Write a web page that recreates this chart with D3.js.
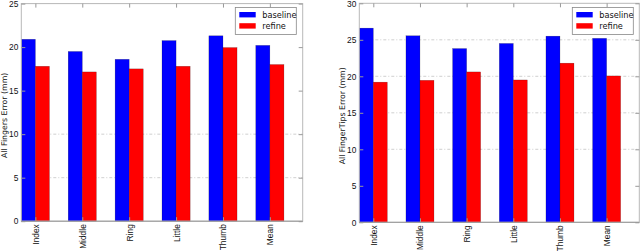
<!DOCTYPE html>
<html>
<head>
<meta charset="utf-8">
<script src="https://cdn.jsdelivr.net/npm/d3@7"></script>
<style>
  body { margin: 0; background: #fff; }
  svg { display: block; font-family: "DejaVu Sans", sans-serif; }
</style>
</head>
<body>
<svg id="chart" width="640" height="251"></svg>
<script>
const categories = ["Index", "Middle", "Ring", "Little", "Thumb", "Mean"];
const seriesNames = ["baseline", "refine"];

const fingersBaseline = [20.9, 19.5, 18.6, 20.75, 21.3, 20.2];
const fingersRefine = [17.8, 17.15, 17.5, 17.8, 19.95, 18.0];
const tipsBaseline = [26.6, 25.55, 23.8, 24.5, 25.5, 25.2];
const tipsRefine = [19.2, 19.45, 20.6, 19.5, 21.8, 20.05];

const fingersTicks = [0, 5, 10, 15, 20, 25];
const tipsTicks = [0, 5, 10, 15, 20, 25, 30];
// grid lines that show up in the picture
const fingersGrid = [5, 10];
const tipsGrid = [10, 15, 20, 25];

const colors = ["#0000ff", "#ff0000"];
const barWidth = 0.3;

const svg = d3.select("#chart");

function panel(opt) {
  const g = svg.append("g");
  const x = d3.scaleLinear().domain([0, categories.length]).range([opt.left, opt.right]);
  const y = d3.scaleLinear().domain([0, opt.ymax]).range([opt.bottom, opt.top]);

  // grid
  g.selectAll(".grid")
    .data(opt.grid)
    .enter()
    .append("line")
    .attr("x1", opt.left).attr("x2", opt.right)
    .attr("y1", d => y(d)).attr("y2", d => y(d))
    .attr("stroke", "#c4c4c4")
    .attr("stroke-width", 0.8)
    .attr("stroke-dasharray", "3,2,1,2");

  // bars
  [opt.baseline, opt.refine].forEach((vals, s) => {
    g.selectAll(".bar" + s)
      .data(vals)
      .enter()
      .append("rect")
      .attr("x", (d, i) => x(i + s * barWidth))
      .attr("width", x(barWidth) - x(0))
      .attr("y", d => y(d))
      .attr("height", d => y(0) - y(d))
      .attr("fill", colors[s])
      .attr("stroke", "rgba(0,0,0,0.45)")
      .attr("stroke-width", 0.4);
  });

  // frame
  g.append("rect")
    .attr("x", opt.left).attr("y", opt.top)
    .attr("width", opt.right - opt.left)
    .attr("height", opt.bottom - opt.top)
    .attr("fill", "none")
    .attr("stroke", "#b8b8b8")
    .attr("stroke-width", 1);
  g.append("line")
    .attr("x1", opt.left).attr("x2", opt.right)
    .attr("y1", opt.bottom).attr("y2", opt.bottom)
    .attr("stroke", "#999");

  // y axis
  const yAxis = d3.axisLeft(y).tickValues(opt.ticks).tickSize(-4).tickPadding(3);
  const ya = g.append("g").attr("transform", `translate(${opt.left},0)`).call(yAxis);
  ya.select(".domain").remove();
  ya.selectAll(".tick line").attr("stroke", "#999");
  ya.selectAll("text").attr("font-size", 8.4).attr("fill", "#111");

  const yAxisR = d3.axisRight(y).tickValues(opt.ticks).tickSize(-4).tickFormat("");
  const yr = g.append("g").attr("transform", `translate(${opt.right},0)`).call(yAxisR);
  yr.select(".domain").remove();
  yr.selectAll(".tick line").attr("stroke", "#999");

  // x axis
  const xt = categories.map((c, i) => i + barWidth);
  const xAxis = d3.axisBottom(x).tickValues(xt).tickSize(-4).tickFormat((d, i) => categories[i]);
  const xa = g.append("g").attr("transform", `translate(0,${opt.bottom})`).call(xAxis);
  xa.select(".domain").remove();
  xa.selectAll(".tick line").attr("stroke", "#999");
  xa.selectAll("text")
    .attr("font-size", 8.4)
    .attr("fill", "#111")
    .attr("transform", "rotate(-90)")
    .attr("text-anchor", "end")
    .attr("x", -3)
    .attr("y", 0)
    .attr("dy", "0.35em");

  const xAxisT = d3.axisTop(x).tickValues(xt).tickSize(-4).tickFormat("");
  const xtop = g.append("g").attr("transform", `translate(0,${opt.top})`).call(xAxisT);
  xtop.select(".domain").remove();
  xtop.selectAll(".tick line").attr("stroke", "#999");

  // y label
  g.append("text")
    .attr("transform", `translate(${opt.labelX},${(opt.top + opt.bottom) / 2 + 3}) rotate(-90)`)
    .attr("text-anchor", "middle")
    .attr("font-size", 7.8)
    .attr("fill", "#111")
    .text(opt.label);

  // legend
  const lg = g.append("g").attr("transform", `translate(${opt.legendX},7.5)`);
  lg.append("rect")
    .attr("width", 61).attr("height", 27)
    .attr("fill", "#fff")
    .attr("stroke", "#888")
    .attr("stroke-width", 0.8);
  seriesNames.forEach((name, s) => {
    lg.append("rect")
      .attr("x", 4).attr("y", 4.5 + s * 11.2)
      .attr("width", 16.4).attr("height", 5.4)
      .attr("fill", colors[s]);
    lg.append("text")
      .attr("x", 27).attr("y", 7.2 + s * 11.2)
      .attr("dy", "0.35em")
      .attr("font-size", 8.2)
      .attr("fill", "#111")
      .text(name);
  });
}

panel({
  left: 21.3, right: 302.7, top: 3.6, bottom: 221.2, ymax: 25,
  ticks: fingersTicks, grid: fingersGrid,
  baseline: fingersBaseline, refine: fingersRefine,
  label: "All Fingers Error (mm)", labelX: 6.5, legendX: 235.3
});

panel({
  left: 359.3, right: 639.3, top: 3.3, bottom: 222.3, ymax: 30,
  ticks: tipsTicks, grid: tipsGrid,
  baseline: tipsBaseline, refine: tipsRefine,
  label: "All FingerTips Error (mm)", labelX: 345, legendX: 572.3
});
</script>
</body>
</html>
